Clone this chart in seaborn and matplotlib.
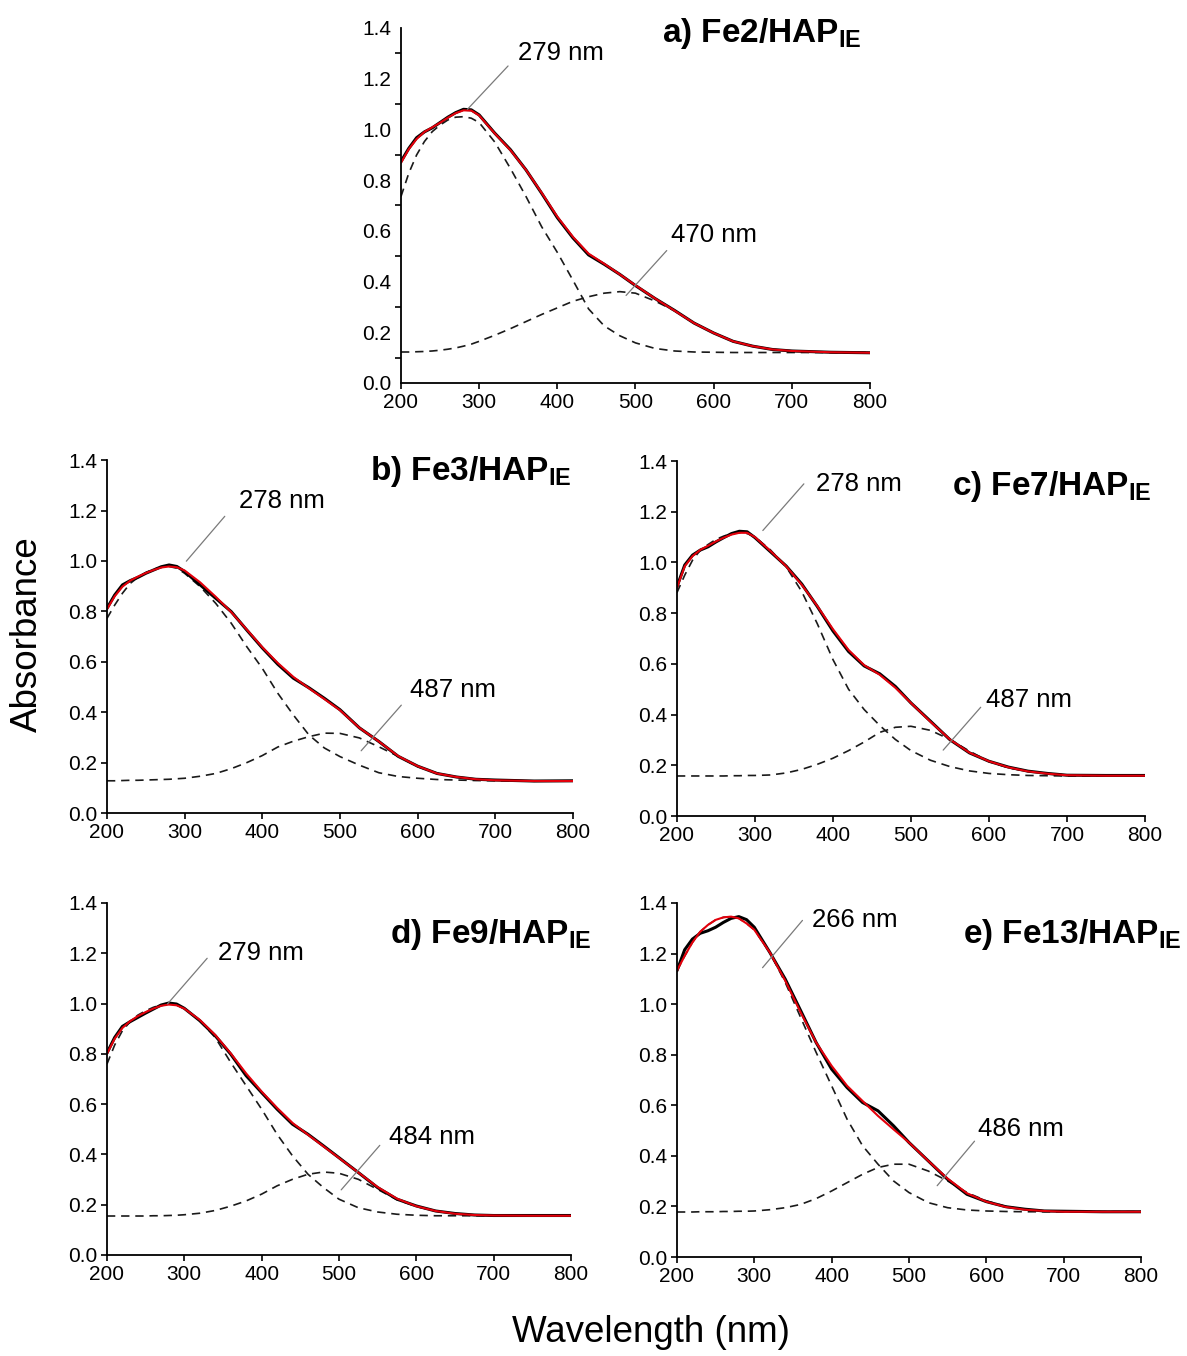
import matplotlib
matplotlib.use("Agg")
import matplotlib.pyplot as plt
import seaborn as sns
import pandas as pd
from matplotlib.ticker import MultipleLocator, FormatStrFormatter

# ---------------- data ----------------
wavelength = [200, 210, 220, 230, 240, 250, 260, 270, 280, 290, 300, 320, 340, 360, 380,
              400, 420, 440, 460, 480, 500, 525, 550, 575, 600, 625, 650, 675, 700, 750, 800]

# a) Fe2/HAP_IE
a_meas = [0.873, 0.925, 0.967, 0.990, 1.006, 1.027, 1.048, 1.066, 1.079, 1.077, 1.057, 0.985, 0.920, 0.840, 0.748,
          0.652, 0.572, 0.505, 0.468, 0.428, 0.384, 0.333, 0.286, 0.236, 0.197, 0.164, 0.145, 0.132, 0.126, 0.121, 0.119]
a_fit = [0.868, 0.922, 0.962, 0.990, 1.008, 1.026, 1.046, 1.064, 1.075, 1.074, 1.055, 0.984, 0.918, 0.840, 0.750,
         0.656, 0.576, 0.510, 0.470, 0.428, 0.385, 0.333, 0.285, 0.236, 0.197, 0.164, 0.145, 0.132, 0.126, 0.121, 0.119]
a_band1 = [0.735, 0.827, 0.899, 0.952, 0.991, 1.017, 1.037, 1.048, 1.050, 1.044, 1.027, 0.950, 0.846, 0.735, 0.616,
           0.515, 0.405, 0.292, 0.225, 0.186, 0.158, 0.136, 0.126, 0.122, 0.121, 0.120, 0.120, 0.120, 0.120, 0.120, 0.120]
a_band2 = [0.122, 0.122, 0.123, 0.124, 0.126, 0.129, 0.133, 0.138, 0.145, 0.153, 0.164, 0.188, 0.214, 0.242, 0.270,
           0.296, 0.322, 0.340, 0.354, 0.360, 0.354, 0.323, 0.285, 0.236, 0.197, 0.164, 0.145, 0.132, 0.126, 0.121, 0.119]

# b) Fe3/HAP_IE
b_meas = [0.812, 0.865, 0.905, 0.922, 0.935, 0.951, 0.964, 0.977, 0.984, 0.978, 0.958, 0.905, 0.852, 0.799, 0.726,
          0.655, 0.590, 0.535, 0.497, 0.455, 0.410, 0.338, 0.284, 0.225, 0.186, 0.157, 0.143, 0.134, 0.131, 0.127, 0.128]
b_fit = [0.808, 0.860, 0.898, 0.922, 0.938, 0.952, 0.964, 0.974, 0.978, 0.975, 0.962, 0.915, 0.858, 0.797, 0.728,
         0.658, 0.595, 0.540, 0.495, 0.452, 0.408, 0.338, 0.284, 0.226, 0.186, 0.157, 0.143, 0.134, 0.130, 0.127, 0.127]
b_band1 = [0.772, 0.825, 0.872, 0.911, 0.935, 0.954, 0.967, 0.975, 0.978, 0.971, 0.951, 0.898, 0.832, 0.753, 0.660,
           0.574, 0.475, 0.389, 0.310, 0.258, 0.224, 0.190, 0.160, 0.145, 0.138, 0.133, 0.131, 0.129, 0.128, 0.127, 0.127]
b_band2 = [0.128, 0.128, 0.129, 0.130, 0.130, 0.131, 0.132, 0.133, 0.134, 0.136, 0.138, 0.146, 0.157, 0.176, 0.200,
           0.228, 0.262, 0.285, 0.303, 0.317, 0.316, 0.298, 0.263, 0.225, 0.184, 0.158, 0.143, 0.134, 0.131, 0.127, 0.127]

# c) Fe7/HAP_IE
c_meas = [0.904, 0.990, 1.029, 1.049, 1.062, 1.081, 1.098, 1.114, 1.123, 1.121, 1.098, 1.042, 0.986, 0.915, 0.826,
          0.730, 0.649, 0.592, 0.561, 0.511, 0.446, 0.374, 0.301, 0.249, 0.216, 0.193, 0.177, 0.168, 0.161, 0.160, 0.160]
c_fit = [0.900, 0.985, 1.025, 1.050, 1.066, 1.083, 1.098, 1.110, 1.117, 1.117, 1.100, 1.045, 0.985, 0.912, 0.828,
         0.737, 0.655, 0.595, 0.557, 0.506, 0.446, 0.372, 0.302, 0.250, 0.216, 0.192, 0.176, 0.167, 0.161, 0.159, 0.159]
c_band1 = [0.881, 0.950, 1.009, 1.049, 1.071, 1.091, 1.104, 1.114, 1.117, 1.114, 1.101, 1.049, 0.983, 0.885, 0.758,
           0.617, 0.500, 0.420, 0.357, 0.302, 0.258, 0.220, 0.195, 0.178, 0.168, 0.163, 0.160, 0.159, 0.158, 0.158, 0.158]
c_band2 = [0.158, 0.158, 0.158, 0.158, 0.158, 0.158, 0.158, 0.159, 0.159, 0.160, 0.160, 0.162, 0.170, 0.184, 0.204,
           0.228, 0.258, 0.292, 0.330, 0.350, 0.354, 0.338, 0.302, 0.256, 0.215, 0.190, 0.176, 0.167, 0.162, 0.159, 0.159]

# d) Fe9/HAP_IE
d_meas = [0.803, 0.865, 0.909, 0.928, 0.945, 0.962, 0.978, 0.994, 1.002, 0.998, 0.981, 0.932, 0.872, 0.799, 0.713,
          0.646, 0.580, 0.520, 0.480, 0.434, 0.387, 0.328, 0.268, 0.222, 0.195, 0.175, 0.165, 0.159, 0.157, 0.157, 0.157]
d_fit = [0.800, 0.860, 0.903, 0.930, 0.950, 0.966, 0.980, 0.991, 0.996, 0.993, 0.980, 0.935, 0.875, 0.802, 0.722,
         0.650, 0.585, 0.525, 0.478, 0.432, 0.386, 0.328, 0.270, 0.224, 0.194, 0.175, 0.164, 0.159, 0.157, 0.156, 0.156]
d_band1 = [0.759, 0.835, 0.892, 0.928, 0.954, 0.971, 0.985, 0.994, 0.998, 0.994, 0.981, 0.932, 0.865, 0.766, 0.673,
           0.580, 0.480, 0.394, 0.321, 0.268, 0.222, 0.188, 0.171, 0.162, 0.158, 0.156, 0.156, 0.156, 0.156, 0.156, 0.156]
d_band2 = [0.155, 0.155, 0.155, 0.155, 0.155, 0.155, 0.156, 0.156, 0.157, 0.158, 0.160, 0.166, 0.177, 0.194, 0.215,
           0.242, 0.275, 0.301, 0.321, 0.330, 0.325, 0.301, 0.261, 0.220, 0.193, 0.175, 0.165, 0.159, 0.157, 0.156, 0.156]

# e) Fe13/HAP_IE
e_meas = [1.132, 1.215, 1.257, 1.280, 1.290, 1.304, 1.323, 1.339, 1.346, 1.334, 1.304, 1.205, 1.099, 0.974, 0.848,
          0.743, 0.670, 0.611, 0.578, 0.519, 0.453, 0.380, 0.307, 0.248, 0.219, 0.199, 0.189, 0.182, 0.181, 0.179, 0.179]
e_fit = [1.132, 1.191, 1.244, 1.286, 1.313, 1.333, 1.343, 1.346, 1.339, 1.319, 1.294, 1.205, 1.093, 0.967, 0.848,
         0.756, 0.677, 0.617, 0.558, 0.505, 0.453, 0.380, 0.310, 0.252, 0.219, 0.198, 0.187, 0.182, 0.179, 0.179, 0.179]
e_band1 = [1.132, 1.190, 1.244, 1.286, 1.313, 1.333, 1.343, 1.346, 1.339, 1.319, 1.294, 1.205, 1.086, 0.947, 0.809,
           0.677, 0.545, 0.440, 0.367, 0.301, 0.255, 0.215, 0.195, 0.186, 0.182, 0.180, 0.179, 0.179, 0.179, 0.179, 0.179]
e_band2 = [0.178, 0.178, 0.178, 0.179, 0.179, 0.179, 0.180, 0.180, 0.181, 0.181, 0.182, 0.187, 0.195, 0.208, 0.231,
           0.261, 0.294, 0.327, 0.354, 0.367, 0.367, 0.340, 0.301, 0.255, 0.222, 0.200, 0.188, 0.182, 0.180, 0.179, 0.179]

panel_labels = ["a) Fe2/HAP", "b) Fe3/HAP", "c) Fe7/HAP", "d) Fe9/HAP", "e) Fe13/HAP"]
peak1_labels = ["279 nm", "278 nm", "278 nm", "279 nm", "266 nm"]
peak2_labels = ["470 nm", "487 nm", "487 nm", "484 nm", "486 nm"]
x_ticks = [200, 300, 400, 500, 600, 700, 800]
y_ticks = [0.0, 0.2, 0.4, 0.6, 0.8, 1.0, 1.2, 1.4]

# ---------------- style / layout ----------------
sns.set_theme(style="ticks")
plt.rcParams["font.family"] = ["Liberation Sans", "DejaVu Sans"]
plt.rcParams["mathtext.fontset"] = "custom"
plt.rcParams["mathtext.rm"] = "Liberation Sans"
plt.rcParams["mathtext.bf"] = "Liberation Sans:bold"
plt.rcParams["mathtext.it"] = "Liberation Sans:italic"
for key in ["text.color", "axes.labelcolor", "xtick.color", "ytick.color", "axes.edgecolor"]:
    plt.rcParams[key] = "black"

fig = plt.figure(figsize=(11.87, 13.56), dpi=100)

rects = [[0.3378, 0.7176, 0.3951, 0.2618],
         [0.0901, 0.4004, 0.3926, 0.2603],
         [0.5703, 0.3982, 0.3943, 0.2618],
         [0.0901, 0.0745, 0.3909, 0.2596],
         [0.5703, 0.0730, 0.3909, 0.2611]]
title_pos = [(0.983, 0.960), (0.996, 0.944), (1.015, 0.905), (1.045, 0.887), (1.088, 0.886)]
# (text anchor, leader start, leader end) in data units
lead1 = [((349.8, 1.303), (337, 1.250), (285, 1.079)),
         ((369.7, 1.236), (351.7, 1.177), (302.2, 0.999)),
         ((378.7, 1.310), (362.7, 1.310), (310.1, 1.126)),
         ((343.2, 1.200), (329.6, 1.180), (278.2, 0.998)),
         ((375.1, 1.331), (362.3, 1.331), (310.7, 1.144))]
lead2 = [((545.7, 0.584), (540, 0.522), (488, 0.345)),
         ((590.0, 0.490), (579, 0.428), (527.3, 0.247)),
         ((596.0, 0.457), (589.4, 0.429), (541.3, 0.260)),
         ((564.2, 0.468), (552.8, 0.436), (502.9, 0.259)),
         ((589.2, 0.507), (584.8, 0.458), (536.5, 0.282))]

series = [(a_meas, a_fit, a_band1, a_band2),
          (b_meas, b_fit, b_band1, b_band2),
          (c_meas, c_fit, c_band1, c_band2),
          (d_meas, d_fit, d_band1, d_band2),
          (e_meas, e_fit, e_band1, e_band2)]

dash = (0, (5.0, 3.5))
for i, (meas, fit, b1, b2) in enumerate(series):
    ax = fig.add_axes(rects[i])
    df = pd.DataFrame({"w": wavelength, "meas": meas, "fit": fit, "b1": b1, "b2": b2})
    sns.lineplot(data=df, x="w", y="b1", ax=ax, color="#1a1a1a", linewidth=1.2, linestyle=dash)
    sns.lineplot(data=df, x="w", y="b2", ax=ax, color="#1a1a1a", linewidth=1.2, linestyle=dash)
    sns.lineplot(data=df, x="w", y="meas", ax=ax, color="black", linewidth=2.2)
    sns.lineplot(data=df, x="w", y="fit", ax=ax, color="#e3000b", linewidth=1.5)

    ax.set_xlim(200, 800)
    ax.set_ylim(0, 1.4)
    ax.set_xticks(x_ticks)
    ax.set_yticks(y_ticks)
    ax.yaxis.set_major_formatter(FormatStrFormatter("%.1f"))
    ax.set_xlabel("")
    ax.set_ylabel("")
    for s in ["top", "right"]:
        ax.spines[s].set_visible(False)
    for s in ["left", "bottom"]:
        ax.spines[s].set_linewidth(1.3)
        ax.spines[s].set_color("black")
    ax.tick_params(axis="both", direction="out", length=4, width=1.2, labelsize=15,
                   colors="black", pad=3)
    if i == 0:
        ax.yaxis.set_minor_locator(MultipleLocator(0.1))
        ax.tick_params(axis="y", which="major", length=0, pad=7)
        ax.tick_params(axis="y", which="minor", direction="out", length=4, width=1.2)

    # panel title
    name = panel_labels[i].replace(" ", r"\ ")
    ax.text(title_pos[i][0], title_pos[i][1], r"$\mathbf{" + name + r"_{IE}}$",
            transform=ax.transAxes, ha="right", va="baseline", fontsize=24, color="black")

    # peak annotations
    for (txt, p0, p1), lab in ((lead1[i], peak1_labels[i]), (lead2[i], peak2_labels[i])):
        ax.annotate("", xy=p1, xytext=p0,
                    arrowprops=dict(arrowstyle="-", color="#7a7a7a", lw=0.9,
                                    shrinkA=0, shrinkB=0))
        ax.text(txt[0], txt[1], lab, ha="left", va="center", fontsize=18.5, color="black")

fig.text(0.023, 0.532, "Absorbance", rotation=90, ha="center", va="center", fontsize=26.5)
fig.text(0.548, 0.017, "Wavelength (nm)", ha="center", va="center", fontsize=26.5)

fig.savefig("out.png", dpi=100)
